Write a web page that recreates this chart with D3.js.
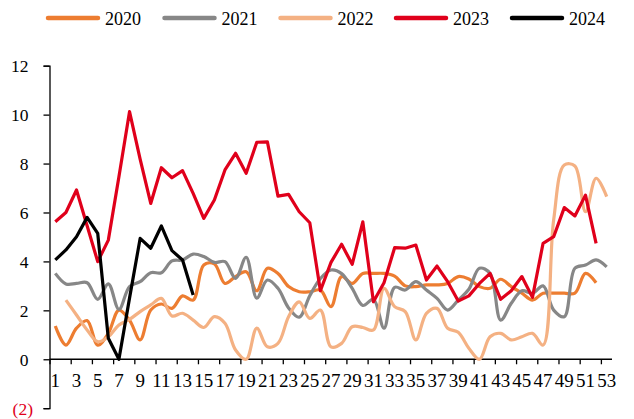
<!DOCTYPE html>
<html><head><meta charset="utf-8">
<script src="https://cdn.jsdelivr.net/npm/d3@7"></script>
<style>body{margin:0;background:#fff}svg{display:block}</style>
</head><body>
<svg id="c" width="634" height="419"></svg>
<script>
const weeks = [1,2,3,4,5,6,7,8,9,10,11,12,13,14,15,16,17,18,19,20,21,22,23,24,25,26,27,28,29,30,31,32,33,34,35,36,37,38,39,40,41,42,43,44,45,46,47,48,49,50,51,52,53];
const yTickValues = [-2,0,2,4,6,8,10,12];
const yTickLabels = ["(2)","0","2","4","6","8","10","12"];
const xTickLabels = [1,3,5,7,9,11,13,15,17,19,21,23,25,27,29,31,33,35,37,39,41,43,45,47,49,51,53];

const s2020 = [1.36,0.58,1.27,1.58,0.58,1.06,2.01,1.6,0.79,2.01,2.26,2.08,2.59,2.42,3.85,3.9,3.1,3.38,3.58,2.8,3.72,3.51,2.97,2.76,2.76,2.83,2.15,3.38,3.1,3.51,3.51,3.51,3.4,3.0,2.97,3.04,3.04,3.1,3.38,3.28,2.97,2.9,3.27,2.97,2.7,2.42,2.7,2.7,2.7,2.7,3.51,3.13,null];
const s2021 = [3.51,3.08,3.1,3.13,2.45,3.08,2.04,2.97,3.17,3.54,3.54,4.02,4.06,4.3,4.2,3.96,3.99,3.31,4.17,2.5,3.24,2.9,2.1,1.72,2.6,3.3,3.65,3.5,2.9,2.2,2.45,1.27,2.94,2.83,3.17,2.83,2.49,2.01,2.42,2.86,3.72,3.51,1.6,2.29,2.8,2.7,3.0,2.01,1.74,3.72,3.85,4.06,3.78];
const s2022 = [null,2.42,1.81,1.2,0.72,0.92,1.4,1.63,1.95,2.22,2.49,1.77,1.88,1.6,1.3,1.74,1.47,0.38,0,1.27,0.51,0.65,1.74,2.35,1.67,2.01,0.51,0.65,1.33,1.3,1.2,2.9,2.15,1.95,0.79,1.88,2.08,1.27,1.1,0.45,0,0.92,1.06,0.79,0.92,1.06,0.58,5.7,7.94,7.9,6.03,7.4,6.65];
const s2023 = [5.62,6.0,6.92,5.46,3.99,4.87,7.46,10.12,8.18,6.37,7.83,7.42,7.71,6.78,5.76,6.51,7.74,8.42,7.6,8.87,8.89,6.67,6.74,6.03,5.58,2.8,3.96,4.7,3.88,5.62,2.35,3.13,4.56,4.54,4.67,3.24,3.81,3.17,2.38,2.59,3.1,3.51,2.45,2.8,3.38,2.53,4.74,5.01,6.2,5.86,6.71,4.74,null];
const s2024 = [4.06,4.47,5.01,5.8,5.15,0.86,0.0,2.5,4.94,4.54,5.45,4.44,4.06,2.63,null,null,null,null,null,null,null,null,null,null,null,null,null,null,null,null,null,null,null,null,null,null,null,null,null,null,null,null,null,null,null,null,null,null,null,null,null,null,null];

const seriesNames = ["2020","2021","2022","2023","2024"];
const seriesValues = [s2020,s2021,s2022,s2023,s2024];
const seriesColors = ["#ED7D31","#878787","#F4B183","#E0001B","#000000"];
const seriesSmooth = [true,true,true,false,false];

const svg = d3.select("#c");
const FONT = "'Times New Roman','Liberation Serif',serif";

const x = d3.scaleBand().domain(weeks).range([50,612]).paddingInner(0).paddingOuter(0);
const cx = w => x(w) + x.bandwidth()/2;
const y = d3.scaleLinear().domain([-2,12]).range([408.2,65.7]);

// y axis
const yAxisG = svg.append("g").attr("transform","translate(49.5,0)")
  .call(d3.axisLeft(y).tickValues(yTickValues).tickSize(6).tickFormat((d,i)=>yTickLabels[i]));
yAxisG.select(".domain").attr("stroke","#000").attr("stroke-width",1.3);
yAxisG.selectAll(".tick line").attr("stroke","#000").attr("stroke-width",1.3);
yAxisG.selectAll(".tick text").attr("font-family",FONT).attr("font-size",17.5).attr("fill",d=>d<0?"#E0001B":"#000")
  .attr("x",d=>d<0?-16.5:-21).attr("dy","0.34em");

// x axis at 0
const xAxisG = svg.append("g").attr("transform",`translate(0,${y(0)})`);
xAxisG.append("line").attr("x1",49.5).attr("x2",612).attr("y1",0).attr("y2",0).attr("stroke","#000").attr("stroke-width",1.3);
const tickW = weeks.filter(w=>w%2===1);
xAxisG.selectAll("line.t").data(tickW).enter().append("line").attr("class","t")
  .attr("x1",d=>x(d)).attr("x2",d=>x(d)).attr("y1",0).attr("y2",5).attr("stroke","#000").attr("stroke-width",1.3);
xAxisG.selectAll("text").data(xTickLabels).enter().append("text")
  .attr("x",d=>cx(d)).attr("y",28).attr("text-anchor","middle")
  .attr("font-family",FONT).attr("font-size",19).text(d=>d);

// lines
seriesValues.forEach((vals,si)=>{
  const pts = weeks.map((w,i)=>({w:w,v:vals[i]}));
  const line = d3.line().defined(d=>d.v!==null).x(d=>cx(d.w)).y(d=>y(d.v))
    .curve(seriesSmooth[si]?d3.curveCatmullRom.alpha(0.5):d3.curveLinear);
  svg.append("path").datum(pts).attr("d",line).attr("fill","none")
    .attr("stroke",seriesColors[si]).attr("stroke-width",3.2).attr("stroke-linejoin","round");
});

// legend
const legX = [46,162.5,278.5,394,510];
const leg = svg.append("g");
seriesNames.forEach((n,i)=>{
  leg.append("line").attr("x1",legX[i]+2).attr("x2",legX[i]+52).attr("y1",18).attr("y2",18)
    .attr("stroke",seriesColors[i]).attr("stroke-width",4.5).attr("stroke-linecap","round");
  leg.append("text").attr("x",legX[i]+59).attr("y",24.5).attr("font-family",FONT).attr("font-size",18).text(n);
});
</script>
</body></html>
